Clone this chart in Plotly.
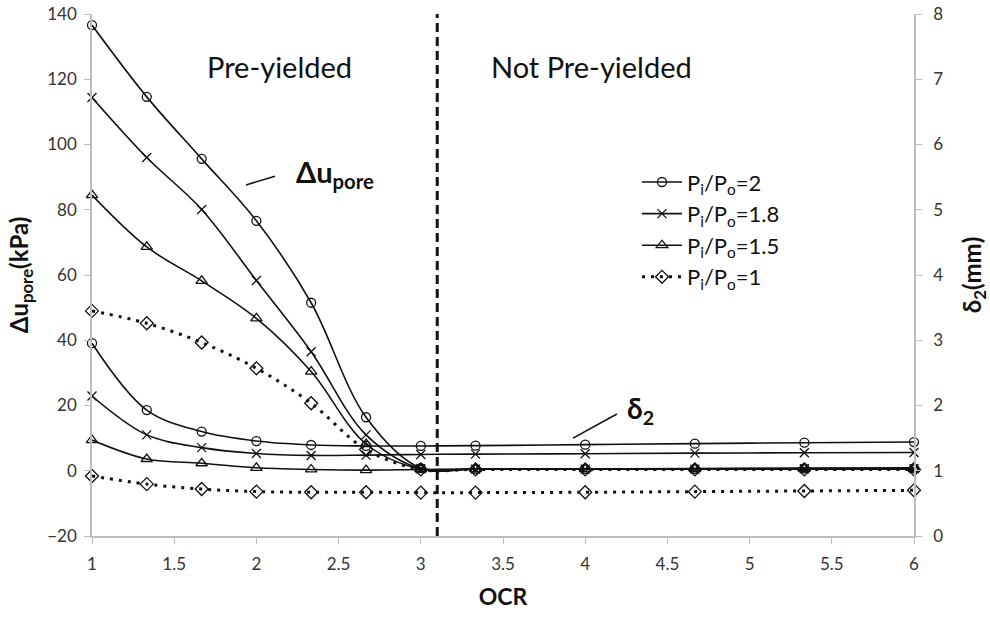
import plotly.graph_objects as go

# OCR values at which both quantities were evaluated
ocr = [1, 1.333, 1.667, 2, 2.333, 2.667, 3, 3.333, 4, 4.667, 5.333, 6]

# Excess pore pressure (kPa), left axis
pore_2 = [136.6, 114.6, 95.6, 76.6, 51.5, 16.4, 0.8, 0.6, 0.6, 0.6, 0.7, 0.7]
pore_18 = [114.4, 96.0, 80.1, 58.3, 36.5, 11.0, 0.6, 0.5, 0.5, 0.5, 0.6, 0.6]
pore_15 = [84.5, 68.6, 58.2, 46.7, 30.4, 8.2, 0.5, 0.5, 0.5, 0.5, 0.5, 0.5]
pore_1 = [49.0, 45.2, 39.3, 31.4, 20.7, 6.5, 0.4, 0.4, 0.4, 0.4, 0.4, 0.4]

# Displacement delta_2 (mm), right axis
d2_2 = [2.955, 1.93, 1.60, 1.455, 1.395, 1.38, 1.38, 1.385, 1.40, 1.415, 1.43, 1.44]
d2_18 = [2.145, 1.55, 1.355, 1.265, 1.235, 1.24, 1.25, 1.255, 1.26, 1.27, 1.275, 1.28]
d2_15 = [1.47, 1.18, 1.115, 1.045, 1.02, 1.01, 1.02, 1.025, 1.03, 1.035, 1.04, 1.045]
d2_1 = [0.92, 0.795, 0.72, 0.68, 0.67, 0.67, 0.665, 0.665, 0.67, 0.68, 0.69, 0.70]

series_names = ["P<sub>i</sub>/P<sub>o</sub>=2", "P<sub>i</sub>/P<sub>o</sub>=1.8",
                "P<sub>i</sub>/P<sub>o</sub>=1.5", "P<sub>i</sub>/P<sub>o</sub>=1"]
pore_series = [pore_2, pore_18, pore_15, pore_1]
d2_series = [d2_2, d2_18, d2_15, d2_1]

# OCR separating pre-yielded from not pre-yielded soil
yield_ocr = 3.1

FONT = "Lato, 'Open Sans', sans-serif"
INK = "#111111"
AXIS_GREY = "#bdbdbd"

styles = [
    dict(symbol="circle-open", size=9, dash="solid", width=1.6),
    dict(symbol="x-thin-open", size=9, dash="solid", width=1.6),
    dict(symbol="triangle-up-open", size=10, dash="solid", width=1.6),
    dict(symbol="diamond-open", size=10, dash="3px,6px", width=3),
]

fig = go.Figure()

for i, (name, pore, d2, st) in enumerate(zip(series_names, pore_series, d2_series, styles)):
    common = dict(
        x=ocr,
        mode="lines+markers",
        line=dict(color=INK, width=st["width"], dash=st["dash"], shape="spline", smoothing=1),
        marker=dict(symbol=st["symbol"], size=st["size"], color=INK,
                    line=dict(color=INK, width=1.3)),
        legendgroup=f"g{i}",
        cliponaxis=False,
        hoverinfo="skip",
    )
    fig.add_trace(go.Scatter(y=pore, name=name, showlegend=True, yaxis="y", **common))
    fig.add_trace(go.Scatter(y=d2, name=name, showlegend=False, yaxis="y2", **common))

# boundary between the two regimes
fig.add_shape(type="line", xref="x", yref="y domain", x0=yield_ocr, x1=yield_ocr, y0=0, y1=1,
              line=dict(color=INK, width=3, dash="9px,5px"))

# leader lines for the curve-family labels
fig.add_shape(type="line", xref="x", yref="y", x0=1.937, y0=87.6, x1=2.113, y1=90.3,
              line=dict(color=INK, width=1.6))
fig.add_shape(type="line", xref="x", yref="y", x0=3.926, y0=10.0, x1=4.193, y1=17.4,
              line=dict(color=INK, width=1.6))

fig.add_annotation(x=2.14, y=124, xref="x", yref="y", text="Pre-yielded", showarrow=False,
                   font=dict(family=FONT, size=29, color=INK))
fig.add_annotation(x=4.04, y=124, xref="x", yref="y", text="Not Pre-yielded", showarrow=False,
                   font=dict(family=FONT, size=29, color=INK))
fig.add_annotation(x=2.23, y=91.0, xref="x", yref="y", xanchor="left",
                   text="<b>Δu<sub>pore</sub></b>", showarrow=False,
                   font=dict(family=FONT, size=29, color=INK))
fig.add_annotation(x=4.24, y=18.5, xref="x", yref="y", xanchor="left",
                   text="<b>δ<sub>2</sub></b>", showarrow=False,
                   font=dict(family=FONT, size=28, color=INK))

tick_font = dict(family=FONT, size=17, color="#333333")
axis_common = dict(showline=True, linecolor=AXIS_GREY, linewidth=1.5, ticks="outside",
                   ticklen=6, tickcolor=AXIS_GREY, tickwidth=1.3, showgrid=False,
                   zeroline=False, tickfont=tick_font)

fig.update_layout(
    width=990, height=617,
    margin=dict(l=92, r=76, t=14, b=81, autoexpand=False),
    paper_bgcolor="white", plot_bgcolor="white",
    font=dict(family=FONT, color=INK),
    xaxis=dict(range=[1, 6], dtick=0.5, tick0=1, ticklabelstandoff=6,
               title=dict(text="<b>OCR</b>", font=dict(family=FONT, size=23, color=INK), standoff=16),
               **axis_common),
    yaxis=dict(range=[-20, 140], dtick=20, ticklabelstandoff=4,
               title=dict(text="<b>Δu<sub>pore</sub>(kPa)</b>",
                          font=dict(family=FONT, size=24, color=INK), standoff=12),
               **axis_common),
    yaxis2=dict(range=[0, 8], dtick=1, overlaying="y", side="right", ticklabelstandoff=8,
                title=dict(text="<b>δ<sub>2</sub>(mm)</b>",
                           font=dict(family=FONT, size=24, color=INK), standoff=22),
                **axis_common),
    legend=dict(x=0.663, y=0.718, xanchor="left", yanchor="top",
                font=dict(family=FONT, size=22, color=INK),
                bgcolor="rgba(0,0,0,0)", tracegroupgap=0, itemwidth=40),
    showlegend=True,
)

fig.write_html("out.html")
